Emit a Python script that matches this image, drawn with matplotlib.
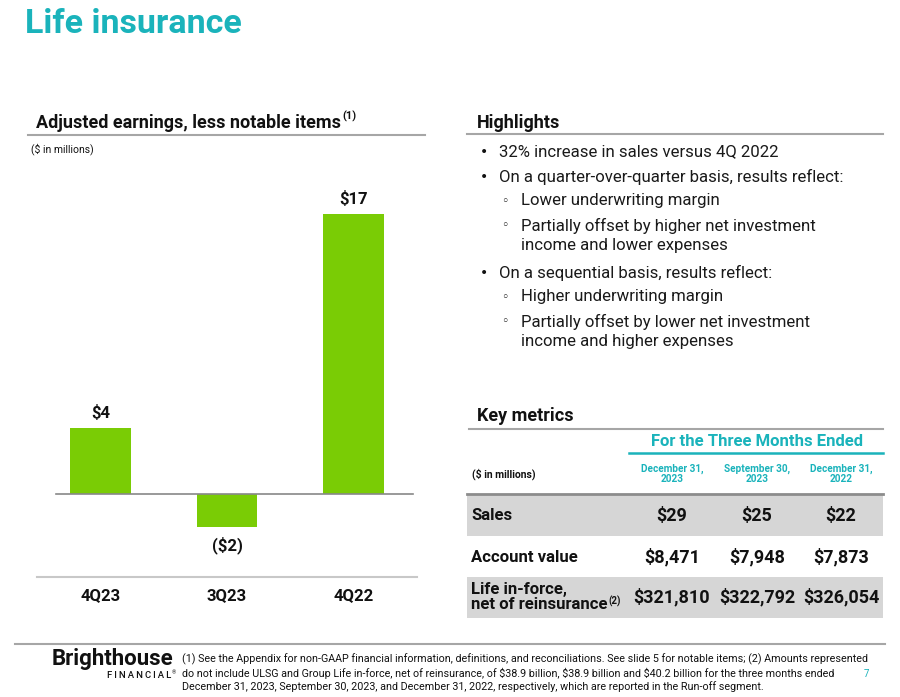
import matplotlib
matplotlib.use("Agg")
import matplotlib.pyplot as plt
from matplotlib.patches import Rectangle

plt.rcParams['font.family'] = ['Roboto', 'DejaVu Sans']
plt.rcParams['text.parse_math'] = False

# ---- data ----
quarters = ['4Q23', '3Q23', '4Q22']
earnings = [4, -2, 17]

highlights = [
    (0, ["32% increase in sales versus 4Q 2022"]),
    (0, ["On a quarter-over-quarter basis, results reflect:"]),
    (1, ["Lower underwriting margin"]),
    (1, ["Partially offset by higher net investment", "income and lower expenses"]),
    (0, ["On a sequential basis, results reflect:"]),
    (1, ["Higher underwriting margin"]),
    (1, ["Partially offset by lower net investment", "income and higher expenses"]),
]

period_cols = ['December 31,\n2023', 'September 30,\n2023', 'December 31,\n2022']
metric_names = ['Sales', 'Account value', 'Life in-force,\nnet of reinsurance']
sales = [29, 25, 22]
account_value = [8471, 7948, 7873]
life_inforce = [321810, 322792, 326054]

footnote = [
    "(1) See the Appendix for non-GAAP financial information, definitions, and reconciliations. See slide 5 for notable items; (2) Amounts represented",
    "do not include ULSG and Group Life in-force, net of reinsurance, of $38.9 billion, $38.9 billion and $40.2 billion for the three months ended",
    "December 31, 2023, September 30, 2023, and December 31, 2022, respectively, which are reported in the Run-off segment.",
]

teal = '#1AB3BB'
green = '#7ACC05'
gray = '#A6A6A6'
dark = '#111111'

fig = plt.figure(figsize=(9, 6.97), dpi=100)

# background axes in pixel coordinates for the slide layout
bg = fig.add_axes([0, 0, 1, 1])
bg.set_xlim(0, 900)
bg.set_ylim(697, 0)
bg.axis('off')

bg.text(25, 24, "Life insurance", fontsize=24.5, fontweight='bold', color=teal, va='center')

# left panel header
t1 = bg.text(36, 123, "Adjusted earnings, less notable items", fontsize=13, fontweight='bold',
             color=dark, va='center')
bg.plot([28, 425], [135, 135], color=gray, lw=1.5)
bg.text(31, 149, "($ in millions)", fontsize=7.5, color=dark, va='center')
bg.plot([37, 417], [577, 577], color='#C8C8C8', lw=1.5)

# bar chart
ax = fig.add_axes([37 / 900, 1 - 577 / 697, 380 / 900, (577 - 180) / 697])
x = range(len(quarters))
ax.bar(x, earnings, width=0.48, color=green)
ax.set_xlim(-0.5, 2.5)
ax.set_ylim(-5.05, 19.09)
ax.axhline(0, xmin=19 / 380, xmax=376 / 380, color='#888888', lw=1.2)
for i, v in enumerate(earnings):
    lab = f"${v}" if v >= 0 else f"(${-v})"
    off = 11 if v >= 0 else -13
    ax.annotate(lab, (i, v), xytext=(0, off), textcoords='offset points',
                ha='center', va='center', fontsize=12, fontweight='bold', color=dark)
ax.set_xticks(list(x))
ax.set_xticklabels(quarters, fontsize=12, fontweight='bold', color=dark)
ax.tick_params(axis='x', length=0, pad=8)
ax.set_yticks([])
for s in ax.spines.values():
    s.set_visible(False)
ax.patch.set_alpha(0)

# highlights
bg.text(477, 123, "Highlights", fontsize=13, fontweight='bold', color=dark, va='center')
bg.plot([467, 883], [134, 134], color=gray, lw=1.5)
y = 152
for level, lines in highlights:
    bx = 480 if level == 0 else 501
    tx = 499 if level == 0 else 521
    bg.text(bx, y, "•" if level == 0 else "◦", fontsize=10 if level == 0 else 9,
            color=dark, va='center', family=['DejaVu Sans'])
    for k, line in enumerate(lines):
        bg.text(tx, y + 20 * k, line, fontsize=12.1, color='#1a1a1a', va='center')
    y += 24.5 + 20 * (len(lines) - 1) + (2.5 if len(lines) > 1 else 0)

# key metrics table
bg.text(477, 416, "Key metrics", fontsize=13, fontweight='bold', color=dark, va='center')
bg.plot([469, 883], [429, 429], color=gray, lw=1.5)
bg.text(757, 441, "For the Three Months Ended", fontsize=12, fontweight='bold', color=teal,
        ha='center', va='center')
bg.plot([629, 883], [453, 453], color=teal, lw=1.8)
col_x = [672, 757, 841]
for cx, lab in zip(col_x, period_cols):
    bg.text(cx, 474, lab, fontsize=7.2, fontweight='bold', color=teal, ha='center', va='center',
            linespacing=0.95)
bg.text(472, 474, "($ in millions)", fontsize=7.5, fontweight='bold', color=dark, va='center')

row_y = [516, 557, 597]
bg.add_patch(Rectangle((467, 494), 416, 42, color='#D6D6D6', lw=0))
bg.add_patch(Rectangle((467, 577), 416, 41, color='#D6D6D6', lw=0))
bg.plot([467, 883], [494, 494], color='#8C8C8C', lw=2)

rows = [sales, account_value, life_inforce]
for ry, name, vals in zip(row_y, metric_names, rows):
    bg.text(471, ry, name, fontsize=12, fontweight='bold', color=dark, va='center', linespacing=0.95)
    for cx, v in zip(col_x, vals):
        bg.text(cx, ry, f"${v:,}", fontsize=13, fontweight='bold', color=dark,
                ha='center', va='center')

# footer
bg.plot([15, 885], [644, 644], color=gray, lw=1.5)
bg.text(52, 659, "Brighthouse", fontsize=16, fontweight='bold', color=dark, va='center')
bg.text(107, 675, "\u2009".join("FINANCIAL"), fontsize=6.8, fontweight='medium', color=dark,
        va='center')
bg.text(172, 673, "®", fontsize=4, color=dark, va='center')
for k, line in enumerate(footnote):
    bg.text(182, 659 + 14 * k, line, fontsize=7.78, color=dark, va='center')
bg.text(864, 674, "7", fontsize=7, color=teal, va='center')

# superscripts placed after measuring text
fig.canvas.draw()
r = fig.canvas.get_renderer()
inv = bg.transData.inverted()
bb = t1.get_window_extent(r)
x1, _ = inv.transform((bb.x1, bb.y1))
bg.text(x1 + 1, 116, "(1)", fontsize=8, fontweight='bold', color=dark, va='center')

fig.canvas.draw()
lt = [t for t in bg.texts if t.get_text() == metric_names[2]][0]
bb = lt.get_window_extent(r)
x1, _ = inv.transform((bb.x1, bb.y0))
bg.text(x1 + 1, 601, "(2)", fontsize=7, fontweight='bold', color=dark, va='center')

fig.savefig('out.png', dpi=100)
